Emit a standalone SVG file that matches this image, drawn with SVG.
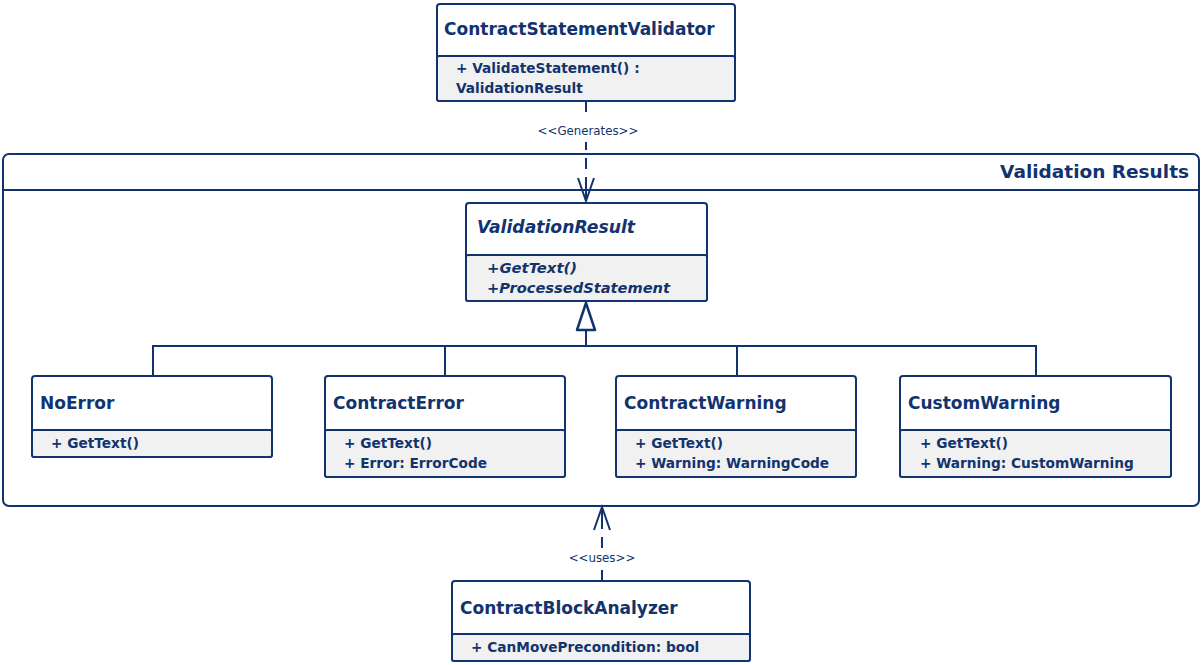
<svg xmlns="http://www.w3.org/2000/svg" width="1203" height="665" viewBox="0 0 1203 665">
<style>
.box{fill:#ffffff;stroke:#12336e;stroke-width:2}
.mem{fill:#f1f1f1;stroke:#12336e;stroke-width:2}
.ln{fill:none;stroke:#12336e;stroke-width:2}
.dash{fill:none;stroke:#12336e;stroke-width:2;stroke-dasharray:11 8}
.t{font-family:"DejaVu Sans",Verdana,sans-serif;font-weight:bold;font-size:17px;fill:#12336e}
.m{font-family:"DejaVu Sans",Verdana,sans-serif;font-weight:bold;font-size:13.7px;fill:#12336e}
.i{font-style:italic}
.lbl{font-family:"DejaVu Sans",Verdana,sans-serif;font-size:11.8px;fill:#12336e}
.pk{font-family:"DejaVu Sans",Verdana,sans-serif;font-weight:bold;font-size:18.5px;fill:#12336e}
</style>
<rect width="1203" height="665" fill="#ffffff"/>
<g id="package-validation-results">
<rect class="box" x="3" y="154" width="1196" height="352" rx="6"/>
<path class="ln" d="M3 190 H1199"/>
<text class="pk" x="1189" y="178" text-anchor="end">Validation Results</text>
</g>
<g id="ContractStatementValidator">
<rect class="box" x="437" y="4" width="298" height="97" rx="3"/>
<rect class="mem" x="437" y="56" width="298" height="45" rx="2"/>
<text class="t" x="444" y="35">ContractStatementValidator</text>
<text class="m" x="456" y="73">+ ValidateStatement() :</text>
<text class="m" x="456" y="93">ValidationResult</text>
</g>
<g id="ValidationResult">
<rect class="box" x="466" y="203" width="241" height="98" rx="3"/>
<rect class="mem" x="466" y="255" width="241" height="46" rx="2"/>
<text class="t i" x="477" y="233" textLength="158" lengthAdjust="spacingAndGlyphs">ValidationResult</text>
<text class="m i" x="487" y="273" textLength="90" lengthAdjust="spacingAndGlyphs">+GetText()</text>
<text class="m i" x="487" y="293" textLength="183" lengthAdjust="spacingAndGlyphs">+ProcessedStatement</text>
</g>
<g id="NoError">
<rect class="box" x="32" y="376" width="240" height="81" rx="3"/>
<rect class="mem" x="32" y="430" width="240" height="27" rx="2"/>
<text class="t" x="40" y="409">NoError</text>
<text class="m" x="51" y="448">+ GetText()</text>
</g>
<g id="ContractError">
<rect class="box" x="325" y="376" width="240" height="101" rx="3"/>
<rect class="mem" x="325" y="430" width="240" height="47" rx="2"/>
<text class="t" x="333" y="409">ContractError</text>
<text class="m" x="344" y="448">+ GetText()</text>
<text class="m" x="344" y="468">+ Error: ErrorCode</text>
</g>
<g id="ContractWarning">
<rect class="box" x="616" y="376" width="240" height="101" rx="3"/>
<rect class="mem" x="616" y="430" width="240" height="47" rx="2"/>
<text class="t" x="624" y="409">ContractWarning</text>
<text class="m" x="635" y="448">+ GetText()</text>
<text class="m" x="635" y="468">+ Warning: WarningCode</text>
</g>
<g id="CustomWarning">
<rect class="box" x="900" y="376" width="271" height="101" rx="3"/>
<rect class="mem" x="900" y="430" width="271" height="47" rx="2"/>
<text class="t" x="908" y="409">CustomWarning</text>
<text class="m" x="920" y="448">+ GetText()</text>
<text class="m" x="920" y="468">+ Warning: CustomWarning</text>
</g>
<g id="ContractBlockAnalyzer">
<rect class="box" x="452" y="581" width="298" height="80" rx="3"/>
<rect class="mem" x="452" y="634" width="298" height="27" rx="2"/>
<text class="t" x="460" y="614">ContractBlockAnalyzer</text>
<text class="m" x="471" y="652">+ CanMovePrecondition: bool</text>
</g>
<g id="connectors">
<path class="dash" d="M586 101 V120"/>
<path class="dash" d="M586 142 V200" stroke-dashoffset="3"/>
<path class="ln" d="M578 178 L586 201 L594 178 M586 180 V201"/>
<text class="lbl" x="588" y="135" text-anchor="middle">&lt;&lt;Generates&gt;&gt;</text>
<path class="ln" d="M586 330 V346 M153 376 V346 H1036 V376 M445 346 V376 M737 346 V376"/>
<polygon points="586,303 577,330 595,330" fill="#ffffff" stroke="#12336e" stroke-width="2.5" stroke-linejoin="round"/>
<path class="dash" d="M602 581 V563"/>
<path class="dash" d="M602 548 V508"/>
<path class="ln" d="M594 530 L602 507 L610 530 M602 507 V528"/>
<text class="lbl" x="602" y="562" text-anchor="middle">&lt;&lt;uses&gt;&gt;</text>
</g>
</svg>
